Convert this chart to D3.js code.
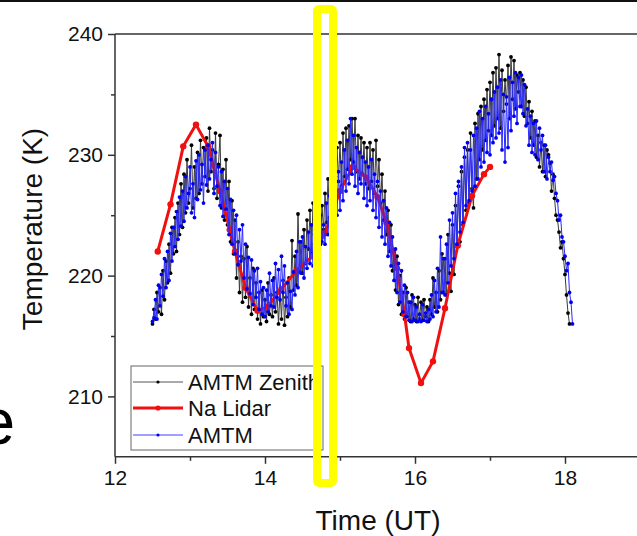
<!DOCTYPE html>
<html>
<head>
<meta charset="utf-8">
<script src="https://cdn.jsdelivr.net/npm/d3@7"></script>
<style>
  html, body { margin: 0; padding: 0; background: #fff; overflow: hidden; }
  svg { display: block; }
  text { font-family: "Liberation Sans", Arial, sans-serif; }
</style>
</head>
<body>
<svg id="chart" width="637" height="536"></svg>
<script>
// AMTM zenith temperatures, sampled every 0.02 h from 12.50 UT
const zenithStart = 12.5;
const zenithStep = 0.02;
const zenithTemps = [
  216.0, 217.2, 216.4, 218.6, 217.0,
  219.0, 216.8, 220.4, 218.0, 221.2,
  219.4, 222.6, 220.2, 224.0, 221.8,
  224.8, 222.0, 226.0, 223.4, 227.6,
  224.0, 228.4, 225.2, 229.6, 226.0,
  227.2, 230.8, 225.6, 229.0, 226.4,
  230.2, 226.8, 231.2, 227.6, 230.6,
  228.2, 231.4, 227.0, 232.2, 228.6,
  230.4, 227.2, 231.8, 226.4, 229.2,
  231.6, 225.6, 228.8, 224.6, 229.6,
  224.2, 227.8, 222.8, 226.2, 221.8,
  224.6, 219.8, 222.8, 218.6, 221.6,
  217.8, 221.4, 218.2, 222.4, 217.4,
  219.8, 216.8, 220.6, 217.2, 219.4,
  216.4, 218.6, 216.0, 218.8, 216.6,
  218.0, 216.2, 219.4, 216.8, 218.4,
  216.6, 219.8, 217.0, 218.6, 216.0,
  218.8, 216.4, 219.6, 215.9, 218.2,
  216.6, 219.8, 217.4, 222.9, 218.8,
  221.6, 219.2, 225.1, 220.4, 222.8,
  220.2, 223.8, 221.0, 224.6, 222.2,
  225.4, 221.8, 226.0, 222.6, 224.8,
  223.2, 226.2, 222.6, 225.8, 223.8,
  226.8, 224.4, 228.0, 224.8, 229.0,
  225.6, 229.8, 226.4, 230.6, 227.8,
  231.0, 227.4, 231.8, 228.2, 232.2,
  228.8, 232.4, 229.6, 233.0, 229.4,
  233.0, 228.6, 231.6, 228.0, 231.4,
  228.4, 231.0, 227.6, 230.6, 227.2,
  231.0, 227.8, 230.4, 226.8, 231.2,
  227.4, 229.6, 226.0, 228.4, 224.6,
  227.0, 223.4, 225.4, 222.0, 224.2,
  220.4, 222.0, 218.8, 221.6, 217.6,
  220.0, 216.8, 218.6, 216.4, 219.0,
  216.6, 217.8, 216.2, 218.4, 216.4,
  217.6, 216.2, 218.2, 216.4, 217.8,
  216.3, 218.0, 216.6, 217.4, 216.2,
  218.0, 216.8, 219.8, 217.4, 218.6,
  217.0, 220.4, 218.0, 221.8, 218.6,
  221.4, 218.4, 223.4, 220.2, 218.7,
  224.2, 220.1, 225.8, 222.4, 227.4,
  222.8, 228.6, 224.2, 229.8, 225.4,
  230.4, 226.0, 231.8, 227.2, 225.6,
  232.6, 228.0, 233.4, 229.6, 234.0,
  230.4, 234.6, 231.2, 235.4, 232.0,
  236.0, 231.6, 236.8, 232.4, 237.2,
  233.0, 238.3, 232.2, 237.0, 233.6,
  236.2, 234.2, 237.4, 233.0, 238.1,
  234.6, 237.8, 233.8, 236.6, 235.2,
  236.8, 234.0, 236.2, 233.2, 235.6,
  232.6, 234.4, 231.4, 233.6, 230.8,
  232.8, 229.8, 231.6, 229.0, 231.0,
  228.6, 230.8, 228.2, 230.4, 230.0,
  229.3, 227.0, 228.4, 226.4, 225.0,
  224.6, 223.6, 222.3, 222.8, 221.4,
  220.1, 218.4, 216.9, 216.0
];

// AMTM temperatures, sampled every 0.02 h from 12.50 UT
const amtmStart = 12.5;
const amtmStep = 0.02;
const amtmTemps = [
  216.2, 216.5, 218.0, 216.4, 219.2,
  217.5, 220.1, 218.3, 221.4, 219.0,
  222.0, 219.6, 223.5, 221.2, 224.0,
  222.4, 225.3, 223.0, 226.5, 224.1,
  227.0, 224.5, 228.2, 225.6, 226.8,
  229.0, 225.2, 227.6, 224.8, 229.5,
  226.3, 230.0, 227.1, 229.2, 226.0,
  230.4, 227.5, 230.8, 228.0, 229.6,
  231.0, 226.8, 230.2, 227.4, 229.0,
  225.8, 228.6, 224.9, 227.8, 225.5,
  227.2, 223.4, 226.3, 222.6, 225.4,
  221.8, 225.0, 220.9, 223.8, 221.2,
  224.2, 219.8, 222.6, 218.9, 221.5,
  218.5, 221.3, 217.6, 220.4, 218.2,
  220.6, 217.2, 219.5, 216.8, 219.0,
  216.6, 218.8, 217.0, 220.2, 217.5,
  219.6, 217.4, 221.0, 218.2, 220.5,
  218.0, 221.6, 218.6, 220.8, 217.5,
  219.4, 216.8, 218.7, 217.2, 220.3,
  218.4, 222.0, 219.0, 222.8, 220.2,
  223.2, 219.8, 222.4, 220.6, 223.6,
  221.0, 224.2, 220.8, 223.4, 221.6,
  224.6, 222.0, 225.0, 222.8, 224.2,
  222.6, 226.0, 223.4, 226.6, 224.0,
  227.0, 224.2, 228.2, 225.0, 228.6,
  225.4, 229.4, 226.2, 230.4, 227.0,
  231.2, 227.6, 233.0, 228.4, 231.6,
  227.4, 230.6, 226.8, 230.2, 227.6,
  229.8, 226.4, 229.4, 225.8, 229.0,
  226.2, 229.6, 225.4, 228.4, 224.8,
  227.8, 224.0, 227.0, 223.2, 226.2,
  222.6, 225.6, 221.6, 224.4, 220.8,
  223.2, 219.6, 222.2, 218.6, 221.0,
  217.8, 220.4, 217.0, 219.2, 216.6,
  218.6, 216.3, 217.8, 216.2, 218.2,
  216.3, 217.4, 216.2, 216.8, 216.2,
  217.6, 216.3, 216.9, 216.2, 217.2,
  216.4, 218.4, 216.6, 219.6, 217.0,
  220.6, 217.4, 223.2, 218.6, 221.4,
  218.4, 222.6, 219.4, 224.6, 220.8,
  225.2, 221.4, 226.8, 222.6, 227.8,
  223.6, 229.0, 224.4, 230.6, 225.8,
  231.0, 226.2, 230.4, 227.0, 231.6,
  227.4, 232.2, 228.0, 233.6, 229.0,
  233.0, 229.4, 234.0, 230.2, 233.4,
  230.0, 234.6, 231.0, 235.2, 231.4,
  235.6, 231.8, 236.2, 230.4, 235.0,
  229.4, 234.8, 230.6, 236.4, 232.0,
  236.0, 233.2, 236.8, 232.6, 236.4,
  234.0, 236.6, 233.4, 235.8, 232.4,
  233.8, 230.8, 233.2, 230.2, 232.6,
  230.0, 232.8, 229.6, 232.2, 230.4,
  231.6, 228.6, 230.8, 228.0, 229.8,
  228.6, 229.4, 227.9, 228.2, 226.8,
  226.2, 224.6, 225.0, 223.2, 222.8,
  221.6, 220.4, 221.0, 218.6, 217.8,
  216.0
];

// Na lidar profile
const lidarTimes = [12.57, 12.74, 12.91, 13.08, 13.24, 13.40, 13.53, 13.60, 13.74, 13.90,
                    14.03, 14.22, 14.42, 14.63, 14.80, 15.00, 15.17, 15.35, 15.50, 15.62,
                    15.76, 15.86, 15.92, 16.08, 16.24, 16.40, 16.57, 16.76, 16.92, 17.00];
const lidarTemps = [222.0, 225.9, 230.7, 232.5, 230.7, 227.0, 223.8, 222.0, 219.0, 217.1,
                    217.4, 218.9, 220.4, 221.6, 223.5, 227.0, 229.0, 228.1, 226.5, 224.4,
                    220.6, 216.8, 214.0, 211.1, 212.9, 217.3, 222.5, 226.6, 228.4, 229.0];

const xMajorTicks = [12, 14, 16, 18];
const xMinorTicks = [13, 15, 17, 19];
const yMajorTicks = [210, 220, 230, 240];
const yMinorTicks = [215, 225, 235];

const seriesNames = ["AMTM Zenith", "Na Lidar", "AMTM"];

const svg = d3.select("#chart");
const x = d3.scaleLinear().domain([12, 19]).range([115, 640]);
const y = d3.scaleLinear().domain([205, 240]).range([456.8, 34]);

const axisColor = "#333";

// slide border strip along the top
svg.append("rect").attr("x", 0).attr("y", 0).attr("width", 637).attr("height", 2).attr("fill", "#111");

// large slide title fragment at the left edge
svg.append("text").attr("x", 15).attr("y", 444).attr("text-anchor", "end")
  .attr("font-size", 64).attr("fill", "#000").text("e");

const toPoints = (start, step, temps) => temps.map((v, i) => ({ t: start + i * step, v }));
const zenith = toPoints(zenithStart, zenithStep, zenithTemps);
const amtm = toPoints(amtmStart, amtmStep, amtmTemps);
const lidar = lidarTimes.map((t, i) => ({ t, v: lidarTemps[i] }));

const line = d3.line().x(d => x(d.t)).y(d => y(d.v));

function drawSeries(data, lineColor, lineWidth, dotColor, r) {
  const g = svg.append("g");
  g.append("path").datum(data).attr("d", line)
    .attr("fill", "none").attr("stroke", lineColor).attr("stroke-width", lineWidth)
    .attr("stroke-linejoin", "round");
  g.selectAll("circle").data(data).join("circle")
    .attr("cx", d => x(d.t)).attr("cy", d => y(d.v)).attr("r", r).attr("fill", dotColor);
}

drawSeries(zenith, "#3a3a3a", 1, "#000", 1.9);
drawSeries(lidar, "#f01010", 3, "#f01010", 3.2);
drawSeries(amtm, "#2a2aff", 1, "#0000f0", 1.9);

// axes: majors with labels, minors without
const fmt = d3.format("d");
const xAxis = svg.append("g").attr("transform", `translate(0,${y(205)})`)
  .call(d3.axisBottom(x).tickValues(xMajorTicks).tickSize(7).tickPadding(6).tickFormat(fmt));
const xAxisMinor = svg.append("g").attr("transform", `translate(0,${y(205)})`)
  .call(d3.axisBottom(x).tickValues(xMinorTicks).tickSize(4).tickFormat(""));
const yAxis = svg.append("g").attr("transform", `translate(${x(12)},0)`)
  .call(d3.axisLeft(y).tickValues(yMajorTicks).tickSize(7).tickPadding(5).tickFormat(fmt));
const yAxisMinor = svg.append("g").attr("transform", `translate(${x(12)},0)`)
  .call(d3.axisLeft(y).tickValues(yMinorTicks).tickSize(4).tickFormat(""));

[xAxis, xAxisMinor, yAxis, yAxisMinor].forEach(a => {
  a.select(".domain").remove();
  a.selectAll(".tick line").attr("stroke", axisColor).attr("stroke-width", 1.5);
  a.selectAll(".tick text").attr("fill", "#111").attr("font-size", 21)
    .attr("font-family", "'Liberation Sans', Arial, sans-serif");
});

// frame: left, top and bottom edges
const frame = svg.append("g").attr("stroke", axisColor).attr("stroke-width", 1.5).attr("fill", "none");
frame.append("line").attr("x1", x(12)).attr("x2", x(12)).attr("y1", y(240)).attr("y2", y(205));
frame.append("line").attr("x1", x(12)).attr("x2", 640).attr("y1", y(240)).attr("y2", y(240));
frame.append("line").attr("x1", x(12)).attr("x2", 640).attr("y1", y(205)).attr("y2", y(205));

// axis titles
svg.append("text").attr("transform", "translate(42,229) rotate(-90)").attr("text-anchor", "middle")
  .attr("font-size", 28).attr("fill", "#111").text("Temperature (K)");
svg.append("text").attr("x", 378).attr("y", 530).attr("text-anchor", "middle")
  .attr("font-size", 28).attr("fill", "#111").text("Time (UT)");

// legend
const legend = svg.append("g");
legend.append("rect").attr("x", 131).attr("y", 366).attr("width", 192).attr("height", 84)
  .attr("fill", "#fff").attr("stroke", "#666").attr("stroke-width", 1);
const legendStyles = [
  { stroke: "#555", width: 1, dot: "#000", r: 1.6 },
  { stroke: "#f01010", width: 3, dot: "#f01010", r: 2.6 },
  { stroke: "#4040ff", width: 1, dot: "#0000f0", r: 1.6 }
];
const rowY = [382, 408, 435];
seriesNames.forEach((name, i) => {
  const s = legendStyles[i];
  legend.append("line").attr("x1", 133).attr("x2", 183).attr("y1", rowY[i]).attr("y2", rowY[i])
    .attr("stroke", s.stroke).attr("stroke-width", s.width);
  legend.append("circle").attr("cx", 158).attr("cy", rowY[i]).attr("r", s.r).attr("fill", s.dot);
  legend.append("text").attr("x", 188).attr("y", rowY[i] + 8).attr("font-size", 22)
    .attr("fill", "#111").text(name);
});

// highlight box
svg.append("rect").attr("x", 317).attr("y", 9).attr("width", 16).attr("height", 474)
  .attr("rx", 2).attr("fill", "none").attr("stroke", "#ffff00").attr("stroke-width", 8);
</script>
</body>
</html>
